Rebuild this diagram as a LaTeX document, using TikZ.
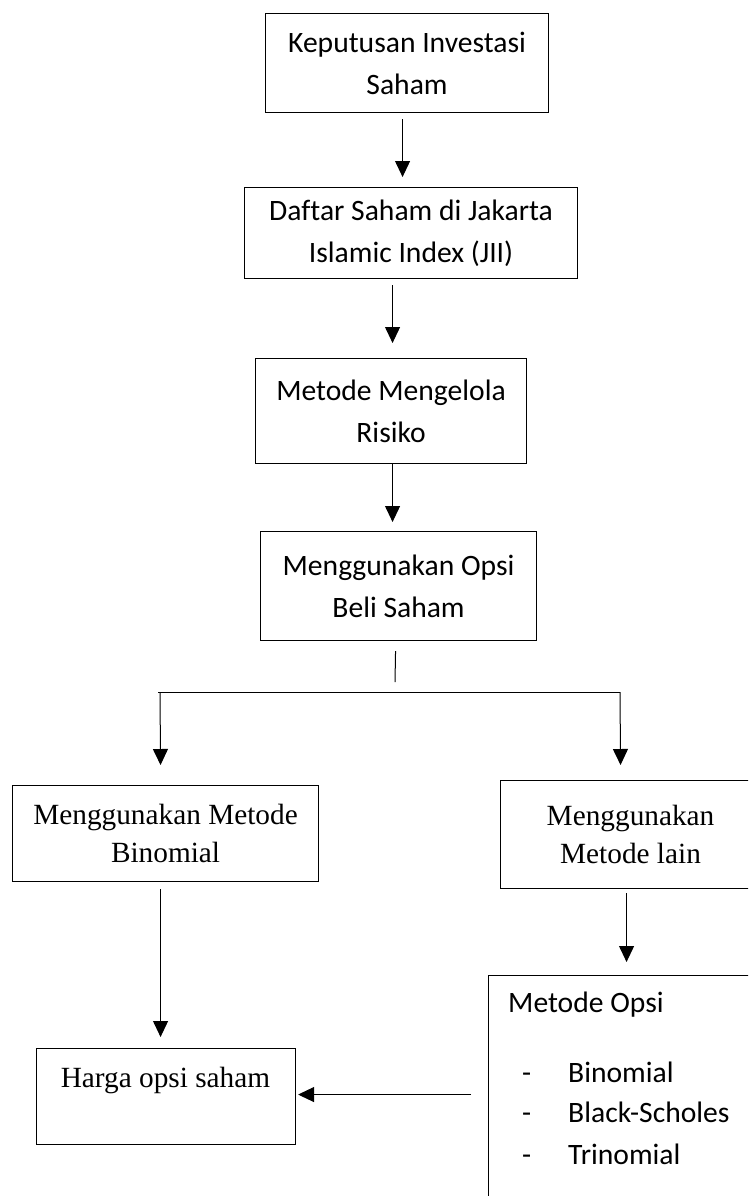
\documentclass[tikz,border=0pt]{standalone}
\usepackage{fontspec}
\setmainfont{Carlito}[Ligatures={NoCommon}]
\newfontfamily\tnr{Liberation Serif}[Ligatures={NoCommon}]
\usetikzlibrary{arrows.meta,calc}
\begin{document}
\begin{tikzpicture}[x=1pt,y=-1pt,
  box/.style={draw, line width=1.1pt, inner sep=0pt, align=center, anchor=north west},
  cal/.style={font=\fontsize{29.6}{42}\selectfont},
  tms/.style={font=\tnr\fontsize{29.3}{38}\selectfont},
  txt/.style={inner sep=0pt, anchor=base west},
  arr/.style={line width=1pt, -{Triangle[width=15pt,length=16pt]}},
  ln/.style={line width=1pt}]
\clip (0,0) rectangle (748,1196);
\fill[white] (0,0) rectangle (748,1196);
% boxes
\node[box,cal,minimum width=283pt,minimum height=99pt] (b1) at (265,13) {Keputusan Investasi\\Saham};
\node[box,cal,minimum width=333pt,minimum height=91pt] (b2) at (244,187) {Daftar Saham di Jakarta\\Islamic Index (JII)};
\node[box,cal,minimum width=271pt,minimum height=105pt] (b3) at (255,358) {Metode Mengelola\\Risiko};
\node[box,cal,minimum width=276pt,minimum height=109pt] (b4) at (260,531) {Menggunakan Opsi\\Beli Saham};
\node[box,tms,minimum width=306pt,minimum height=96pt] (b5) at (12,785) {Menggunakan Metode\\Binomial};
\node[box,tms,minimum width=260pt,minimum height=108pt] (b6) at (500,780) {Menggunakan\\Metode lain};
\node[box,minimum width=259pt,minimum height=96pt] (b7) at (36,1048) {};
\node[box,minimum width=300pt,minimum height=260pt] (b8) at (488,975) {};
% texts in open boxes
\node[tms,inner sep=0pt,anchor=base] (h) at (165.5,1087) {Harga opsi saham};
\node[cal,txt] (t0) at (508,1012) {Metode Opsi};
\node[cal,txt] (d1) at (522,1082) {-};
\node[cal,txt] (l1) at (568,1082) {Binomial};
\node[cal,txt] (d2) at (522,1122) {-};
\node[cal,txt] (l2) at (568,1122) {Black-Scholes};
\node[cal,txt] (d3) at (522,1164) {-};
\node[cal,txt] (l3) at (568,1164) {Trinomial};
% split coordinates
\coordinate (sp) at (395,682);
\coordinate (hl) at (158,692);
\coordinate (hr) at (620,692);
% connectors
\draw[arr] ($(b1.south)+(-4.5,6)$) -- ($(b2.north)+(-8.5,-10)$);
\draw[arr] ($(b2.south)+(-18.5,6)$) -- ($(b3.north)+(1.5,-15)$);
\draw[arr] ($(b3.south)+(1.5,0)$) -- ($(b4.north)+(-6,-9)$);
\draw[ln] ($(b4.south)+(-3,10)$) -- (sp);
\draw[ln] (hl) -- (hr);
\draw[arr] ($(hl)+(2,0)$) -- ($(b5.north)+(-5,-20)$);
\draw[arr] (hr) -- ($(b6.north)+(-10,-15)$);
\draw[arr] ($(b5.south)+(-5,7)$) -- ($(b7.north)+(-5.5,-11)$);
\draw[arr] ($(b6.south)+(-4,4)$) -- ($(b8.north)+(-12,-13)$);
\draw[arr] ($(b7.east -| b8.west)+(-17,-2)$) -- ($(b7.east)+(2,-2)$);
\end{tikzpicture}
\end{document}
